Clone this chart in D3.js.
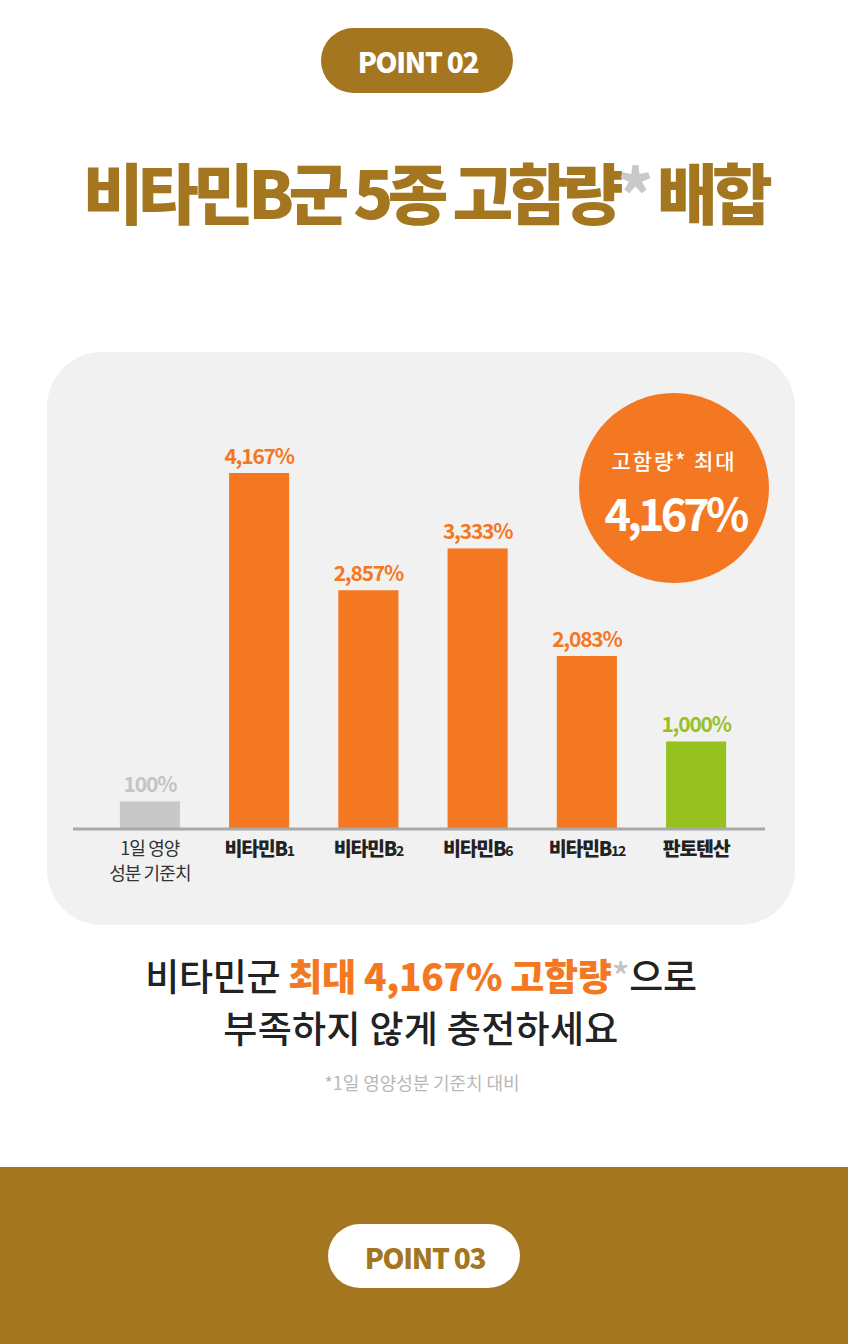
<!DOCTYPE html>
<html><head><meta charset="utf-8">
<script src="https://cdn.jsdelivr.net/npm/d3@7/dist/d3.min.js"></script>
<style>
html,body{margin:0;padding:0;background:#fff;}
svg{display:block;}
text{font-family:"Noto Sans CJK KR","Noto Sans",sans-serif;}
</style></head>
<body>
<script>
// ---- data ----
const categories = ["1일 영양 성분 기준치", "비타민B1", "비타민B2", "비타민B6", "비타민B12", "판토텐산"];
const labelMain = ["", "비타민B", "비타민B", "비타민B", "비타민B", "판토텐산"];
const labelSub  = ["", "1", "2", "6", "12", ""];
const values = [100, 4167, 2857, 3333, 2083, 1000];
const valueLabels = ["100%", "4,167%", "2,857%", "3,333%", "2,083%", "1,000%"];
const barColors = ["#C8C8C8", "#F47721", "#F47721", "#F47721", "#F47721", "#96C11F"];
const labelColors = ["#C4C4C4", "#F47721", "#F47721", "#F47721", "#F47721", "#96C11F"];

const W = 848, H = 1344;
const GOLD = "#A3761F", ORANGE = "#F47721";

const svg = d3.select("body").append("svg").attr("width", W).attr("height", H);

function fitWidth(sel, target) {
  const node = sel.node();
  const n = node.getNumberOfChars();
  const len = node.getComputedTextLength();
  const ls = (target - len) / Math.max(1, n - 1);
  sel.attr("letter-spacing", ls);
}

// POINT 02 pill
svg.append("rect").attr("x", 321).attr("y", 28).attr("width", 192).attr("height", 65)
  .attr("rx", 32.5).attr("fill", GOLD);
const p2 = svg.append("text").attr("x", 418).attr("y", 61).attr("text-anchor", "middle")
  .attr("dominant-baseline", "central").attr("fill", "#fff")
  .attr("font-size", 28).attr("font-weight", 800).text("POINT 02");
fitWidth(p2, 122);

// Title
const title = svg.append("text").attr("x", 425).attr("y", 190).attr("text-anchor", "middle")
  .attr("dominant-baseline", "central").attr("font-size", 66).attr("font-weight", 900).attr("fill", GOLD);
title.append("tspan").text("비타민B군 5종 고함량");
title.append("tspan").attr("fill", "#C9C9C9").text("*");
title.append("tspan").text(" 배합");
fitWidth(title, 690);

// panel
svg.append("rect").attr("x", 47).attr("y", 352).attr("width", 748).attr("height", 573)
  .attr("rx", 55).attr("fill", "#F1F1F1");

// chart
const baseline = 828;
const x = d3.scaleBand().domain(categories).range([98, 748]).paddingInner(0.45).paddingOuter(0.2);
const y = d3.scalePow().exponent(1.15).domain([0, 4167]).range([baseline - 22, 473]);

const g = svg.append("g");
g.selectAll("rect.bar").data(values).join("rect").attr("class", "bar")
  .attr("x", (d, i) => x(categories[i]))
  .attr("width", x.bandwidth())
  .attr("y", d => y(d))
  .attr("height", d => baseline - y(d))
  .attr("fill", (d, i) => barColors[i]);

g.selectAll("text.val").data(values).join("text").attr("class", "val")
  .attr("x", (d, i) => x(categories[i]) + x.bandwidth() / 2)
  .attr("y", d => y(d) - 18)
  .attr("text-anchor", "middle").attr("dominant-baseline", "central")
  .attr("font-size", 21).attr("font-weight", 700).attr("letter-spacing", -1.2)
  .attr("fill", (d, i) => labelColors[i])
  .text((d, i) => valueLabels[i]);

// axis line
svg.append("line").attr("x1", 73).attr("x2", 765).attr("y1", baseline + 1).attr("y2", baseline + 1)
  .attr("stroke", "#A9A9A9").attr("stroke-width", 3);

// x labels
categories.forEach((c, i) => {
  const cx = x(c) + x.bandwidth() / 2;
  if (i === 0) {
    const t = svg.append("text").attr("x", cx).attr("text-anchor", "middle")
      .attr("font-size", 18).attr("font-weight", 400).attr("fill", "#333").attr("letter-spacing", -0.9);
    t.append("tspan").attr("x", cx).attr("y", 855).text("1일 영양");
    t.append("tspan").attr("x", cx).attr("y", 880).text("성분 기준치");
  } else {
    const t = svg.append("text").attr("x", cx).attr("y", 856).attr("text-anchor", "middle")
      .attr("font-size", 19.5).attr("font-weight", 900).attr("fill", "#222").attr("letter-spacing", -1.3);
    t.append("tspan").text(labelMain[i]);
    if (labelSub[i]) t.append("tspan").attr("font-size", 14).attr("font-weight", 700).text(labelSub[i]);
  }
});

// circle badge
svg.append("circle").attr("cx", 674).attr("cy", 488).attr("r", 95).attr("fill", ORANGE);
const c1 = svg.append("text").attr("x", 674).attr("y", 460).attr("text-anchor", "middle")
  .attr("dominant-baseline", "central").attr("fill", "#fff").attr("font-size", 21).attr("font-weight", 500)
  .text("고함량* 최대");
fitWidth(c1, 123);
const c2 = svg.append("text").attr("x", 675).attr("y", 511).attr("text-anchor", "middle")
  .attr("dominant-baseline", "central").attr("fill", "#fff").attr("font-size", 45).attr("font-weight", 700)
  .text("4,167%");
fitWidth(c2, 145);

// bottom message
const m1 = svg.append("text").attr("x", 421).attr("y", 975).attr("text-anchor", "middle")
  .attr("dominant-baseline", "central").attr("font-size", 37).attr("font-weight", 500).attr("fill", "#222");
m1.append("tspan").text("비타민군 ");
m1.append("tspan").attr("fill", ORANGE).attr("font-weight", 800).text("최대 4,167% 고함량");
m1.append("tspan").attr("fill", "#C4C4C4").text("*");
m1.append("tspan").text("으로");
fitWidth(m1, 552);
const m2 = svg.append("text").attr("x", 421).attr("y", 1027).attr("text-anchor", "middle")
  .attr("dominant-baseline", "central").attr("font-size", 37).attr("font-weight", 500).attr("fill", "#222")
  .text("부족하지 않게 충전하세요");
fitWidth(m2, 395);
const fn = svg.append("text").attr("x", 422).attr("y", 1082).attr("text-anchor", "middle")
  .attr("dominant-baseline", "central").attr("font-size", 18).attr("font-weight", 400).attr("fill", "#B8B8B8")
  .text("*1일 영양성분 기준치 대비");
fitWidth(fn, 195);

// bottom band
svg.append("rect").attr("x", 0).attr("y", 1167).attr("width", W).attr("height", H - 1167).attr("fill", GOLD);
svg.append("rect").attr("x", 328).attr("y", 1224).attr("width", 192).attr("height", 64)
  .attr("rx", 32).attr("fill", "#fff");
const p3 = svg.append("text").attr("x", 425).attr("y", 1257).attr("text-anchor", "middle")
  .attr("dominant-baseline", "central").attr("fill", GOLD)
  .attr("font-size", 28).attr("font-weight", 800).text("POINT 03");
fitWidth(p3, 122);
</script>
</body></html>
